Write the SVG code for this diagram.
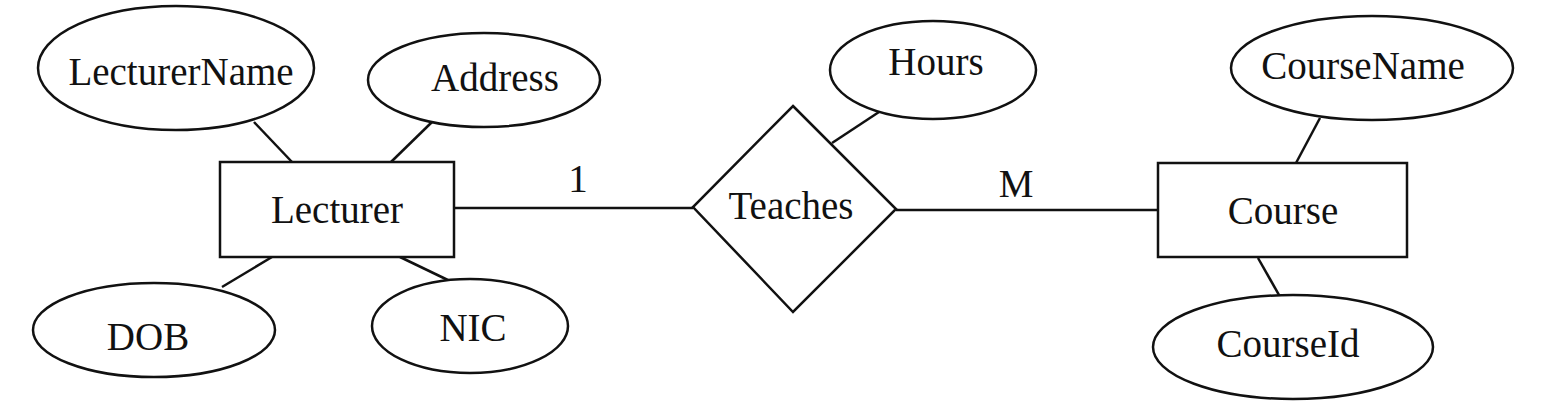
<svg xmlns="http://www.w3.org/2000/svg" width="1545" height="408" viewBox="0 0 1545 408">
<style>
.s{fill:#fff;stroke:#111;stroke-width:2.5}
.c line{stroke:#111;stroke-width:2.5}
text{font-family:"Liberation Serif","Times New Roman",serif;font-size:39px;fill:#111;text-anchor:middle}
</style>
<rect width="1545" height="408" fill="#fff"/>
<g class="c" id="connectors">
<line x1="254" y1="122" x2="292" y2="162"/>
<line x1="432" y1="122" x2="391" y2="162"/>
<line x1="272" y1="257" x2="222" y2="287"/>
<line x1="400" y1="257" x2="452" y2="282"/>
<line x1="455" y1="208" x2="693" y2="208"/>
<line x1="896" y1="210" x2="1158" y2="210"/>
<line x1="879" y1="112" x2="832" y2="143"/>
<line x1="1320" y1="118" x2="1296" y2="163"/>
<line x1="1258" y1="258" x2="1283" y2="302"/>
</g>
<g id="labels">
<text x="578" y="192">1</text>
<text x="1016" y="197">M</text>
</g>
<g id="lecturer"><rect class="s" x="220" y="162" width="234" height="95"/><text x="337" y="223">Lecturer</text></g>
<g id="lecturername"><ellipse class="s" cx="176" cy="68" rx="138" ry="62"/><text x="181" y="85">LecturerName</text></g>
<g id="address"><ellipse class="s" cx="484" cy="80" rx="116" ry="47"/><text x="495" y="91">Address</text></g>
<g id="dob"><ellipse class="s" cx="154" cy="330" rx="121" ry="47"/><text x="148" y="350">DOB</text></g>
<g id="nic"><ellipse class="s" cx="470" cy="326" rx="98" ry="47"/><text x="473" y="341">NIC</text></g>
<g id="teaches"><polygon class="s" points="793,106 896,209 793,312 693,207"/><text x="791" y="219">Teaches</text></g>
<g id="hours"><ellipse class="s" cx="933" cy="70" rx="103" ry="49"/><text x="936" y="75">Hours</text></g>
<g id="course"><rect class="s" x="1158" y="163" width="249" height="94"/><text x="1283" y="224">Course</text></g>
<g id="coursename"><ellipse class="s" cx="1372" cy="68" rx="141" ry="52"/><text x="1363" y="79">CourseName</text></g>
<g id="courseid"><ellipse class="s" cx="1293" cy="347" rx="140" ry="52"/><text x="1288" y="357">CourseId</text></g>
</svg>
